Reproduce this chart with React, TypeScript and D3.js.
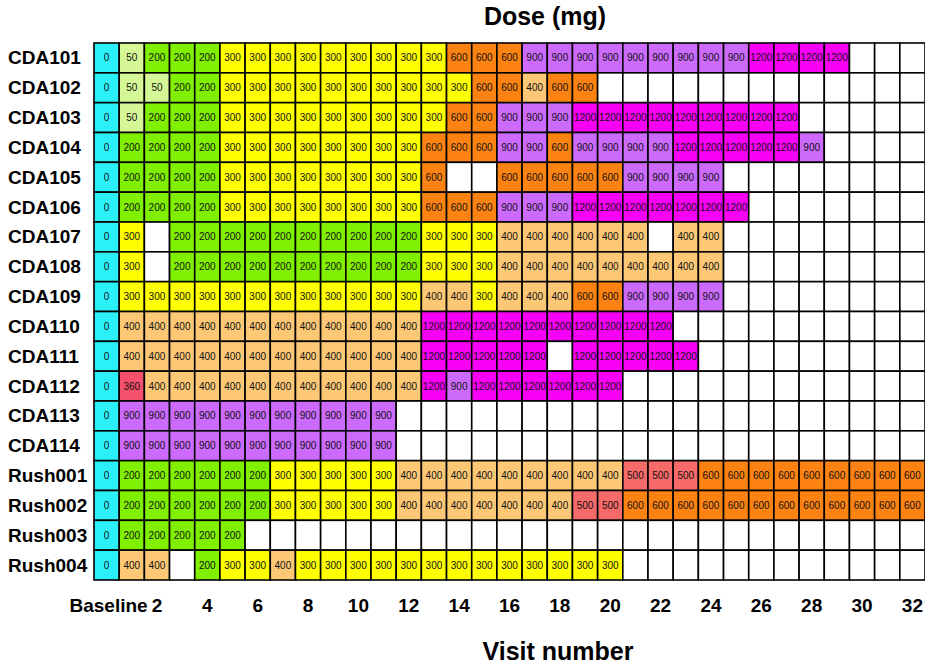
import { useEffect, useRef } from "react";
import * as d3 from "d3";

const _ = null;

const subjects = [
  "CDA101", "CDA102", "CDA103", "CDA104", "CDA105", "CDA106", "CDA107", "CDA108", "CDA109",
  "CDA110", "CDA111", "CDA112", "CDA113", "CDA114", "Rush001", "Rush002", "Rush003", "Rush004",
];

const visits = d3.range(0, 33);

const tickVisits = [0, 2, 4, 6, 8, 10, 12, 14, 16, 18, 20, 22, 24, 26, 28, 30, 32];
const tickLabels = ["Baseline", "2", "4", "6", "8", "10", "12", "14", "16", "18", "20", "22", "24", "26", "28", "30", "32"];

// dose (mg) per visit, null = no visit
const CDA101 = [0, 50, 200, 200, 200, 300, 300, 300, 300, 300, 300, 300, 300, 300, 600, 600, 600, 900, 900, 900, 900, 900, 900, 900, 900, 900, 1200, 1200, 1200, 1200, _, _, _];
const CDA102 = [0, 50, 50, 200, 200, 300, 300, 300, 300, 300, 300, 300, 300, 300, 300, 600, 600, 400, 600, 600, _, _, _, _, _, _, _, _, _, _, _, _, _];
const CDA103 = [0, 50, 200, 200, 200, 300, 300, 300, 300, 300, 300, 300, 300, 300, 600, 600, 900, 900, 900, 1200, 1200, 1200, 1200, 1200, 1200, 1200, 1200, 1200, _, _, _, _, _];
const CDA104 = [0, 200, 200, 200, 200, 300, 300, 300, 300, 300, 300, 300, 300, 600, 600, 600, 900, 900, 600, 900, 900, 900, 900, 1200, 1200, 1200, 1200, 1200, 900, _, _, _, _];
const CDA105 = [0, 200, 200, 200, 200, 300, 300, 300, 300, 300, 300, 300, 300, 600, _, _, 600, 600, 600, 600, 600, 900, 900, 900, 900, _, _, _, _, _, _, _, _];
const CDA106 = [0, 200, 200, 200, 200, 300, 300, 300, 300, 300, 300, 300, 300, 600, 600, 600, 900, 900, 900, 1200, 1200, 1200, 1200, 1200, 1200, 1200, _, _, _, _, _, _, _];
const CDA107 = [0, 300, _, 200, 200, 200, 200, 200, 200, 200, 200, 200, 200, 300, 300, 300, 400, 400, 400, 400, 400, 400, _, 400, 400, _, _, _, _, _, _, _, _];
const CDA108 = [0, 300, _, 200, 200, 200, 200, 200, 200, 200, 200, 200, 200, 300, 300, 300, 400, 400, 400, 400, 400, 400, 400, 400, 400, _, _, _, _, _, _, _, _];
const CDA109 = [0, 300, 300, 300, 300, 300, 300, 300, 300, 300, 300, 300, 300, 400, 400, 300, 400, 400, 400, 600, 600, 900, 900, 900, 900, _, _, _, _, _, _, _, _];
const CDA110 = [0, 400, 400, 400, 400, 400, 400, 400, 400, 400, 400, 400, 400, 1200, 1200, 1200, 1200, 1200, 1200, 1200, 1200, 1200, 1200, _, _, _, _, _, _, _, _, _, _];
const CDA111 = [0, 400, 400, 400, 400, 400, 400, 400, 400, 400, 400, 400, 400, 1200, 1200, 1200, 1200, 1200, _, 1200, 1200, 1200, 1200, 1200, _, _, _, _, _, _, _, _, _];
const CDA112 = [0, 360, 400, 400, 400, 400, 400, 400, 400, 400, 400, 400, 400, 1200, 900, 1200, 1200, 1200, 1200, 1200, 1200, _, _, _, _, _, _, _, _, _, _, _, _];
const CDA113 = [0, 900, 900, 900, 900, 900, 900, 900, 900, 900, 900, 900, _, _, _, _, _, _, _, _, _, _, _, _, _, _, _, _, _, _, _, _, _];
const CDA114 = [0, 900, 900, 900, 900, 900, 900, 900, 900, 900, 900, 900, _, _, _, _, _, _, _, _, _, _, _, _, _, _, _, _, _, _, _, _, _];
const Rush001 = [0, 200, 200, 200, 200, 200, 200, 300, 300, 300, 300, 300, 400, 400, 400, 400, 400, 400, 400, 400, 400, 500, 500, 500, 600, 600, 600, 600, 600, 600, 600, 600, 600];
const Rush002 = [0, 200, 200, 200, 200, 200, 200, 300, 300, 300, 300, 300, 400, 400, 400, 400, 400, 400, 400, 500, 500, 600, 600, 600, 600, 600, 600, 600, 600, 600, 600, 600, 600];
const Rush003 = [0, 200, 200, 200, 200, 200, _, _, _, _, _, _, _, _, _, _, _, _, _, _, _, _, _, _, _, _, _, _, _, _, _, _, _];
const Rush004 = [0, 400, 400, _, 200, 300, 300, 400, 300, 300, 300, 300, 300, 300, 300, 300, 300, 300, 300, 300, 300, _, _, _, _, _, _, _, _, _, _, _, _];

const doses = [CDA101, CDA102, CDA103, CDA104, CDA105, CDA106, CDA107, CDA108, CDA109,
  CDA110, CDA111, CDA112, CDA113, CDA114, Rush001, Rush002, Rush003, Rush004];

const doseLevels = [0, 50, 200, 300, 360, 400, 500, 600, 900, 1200];
const doseColors = ["#2cf0f8", "#d6f795", "#80f000", "#ffff00", "#f5506c", "#fdc876", "#f76a6a", "#fc8312", "#cc6bfb", "#f700f5"];

const App = () => {
  const ref = useRef<SVGSVGElement>(null);

  useEffect(() => {
    const width = 925;
    const height = 665;
    const margin = { top: 43, right: 0, bottom: 85, left: 94 };
    const font = "'Liberation Sans', Arial, sans-serif";

    const svg = d3.select(ref.current)
      .attr("width", width)
      .attr("height", height);
    svg.selectAll("*").remove();

    const x = d3.scaleBand<number>()
      .domain(visits)
      .range([margin.left, width - margin.right]);

    const y = d3.scaleBand<string>()
      .domain(subjects)
      .range([margin.top, height - margin.bottom]);

    const color = d3.scaleOrdinal<number, string>()
      .domain(doseLevels)
      .range(doseColors);

    const cells = subjects.flatMap((s, i) =>
      visits.map(v => ({ subject: s, visit: v, dose: doses[i][v] }))
    );

    // 셀 그리기
    const g = svg.append("g");
    g.selectAll("rect")
      .data(cells)
      .join("rect")
      .attr("x", d => x(d.visit)!)
      .attr("y", d => y(d.subject)!)
      .attr("width", x.bandwidth())
      .attr("height", y.bandwidth())
      .attr("fill", d => d.dose === null ? "#ffffff" : color(d.dose))
      .attr("stroke", "#000")
      .attr("stroke-width", 1.6);

    g.selectAll("text")
      .data(cells.filter(d => d.dose !== null))
      .join("text")
      .attr("x", d => x(d.visit)! + x.bandwidth() / 2)
      .attr("y", d => y(d.subject)! + y.bandwidth() / 2)
      .attr("text-anchor", "middle")
      .attr("dominant-baseline", "central")
      .style("font-family", font)
      .style("font-size", "10px")
      .attr("fill", "#111")
      .text(d => String(d.dose));

    // 행 라벨
    svg.append("g")
      .selectAll("text")
      .data(subjects)
      .join("text")
      .attr("x", 8)
      .attr("y", d => y(d)! + y.bandwidth() / 2)
      .attr("dominant-baseline", "central")
      .style("font-family", font)
      .style("font-size", "19px")
      .style("font-weight", "bold")
      .text(d => d);

    // x축 눈금 라벨
    svg.append("g")
      .selectAll("text")
      .data(tickVisits)
      .join("text")
      .attr("x", (d, i) => i === 0 ? x(d)! + x.bandwidth() / 2 + 2 : x(d)! + x.bandwidth() / 2)
      .attr("y", 605)
      .attr("text-anchor", "middle")
      .attr("dominant-baseline", "central")
      .style("font-family", font)
      .style("font-size", "19px")
      .style("font-weight", "bold")
      .text((d, i) => tickLabels[i]);

    // 제목
    svg.append("text")
      .attr("x", 545)
      .attr("y", 16)
      .attr("text-anchor", "middle")
      .attr("dominant-baseline", "central")
      .style("font-family", font)
      .style("font-size", "25px")
      .style("font-weight", "bold")
      .text("Dose (mg)");

    svg.append("text")
      .attr("x", 558)
      .attr("y", 651)
      .attr("text-anchor", "middle")
      .attr("dominant-baseline", "central")
      .style("font-family", font)
      .style("font-size", "25px")
      .style("font-weight", "bold")
      .text("Visit number");
  }, []);

  return <svg ref={ref} style={{ position: "absolute", left: 0, top: 0, background: "#fff" }} />;
};

export default App;
